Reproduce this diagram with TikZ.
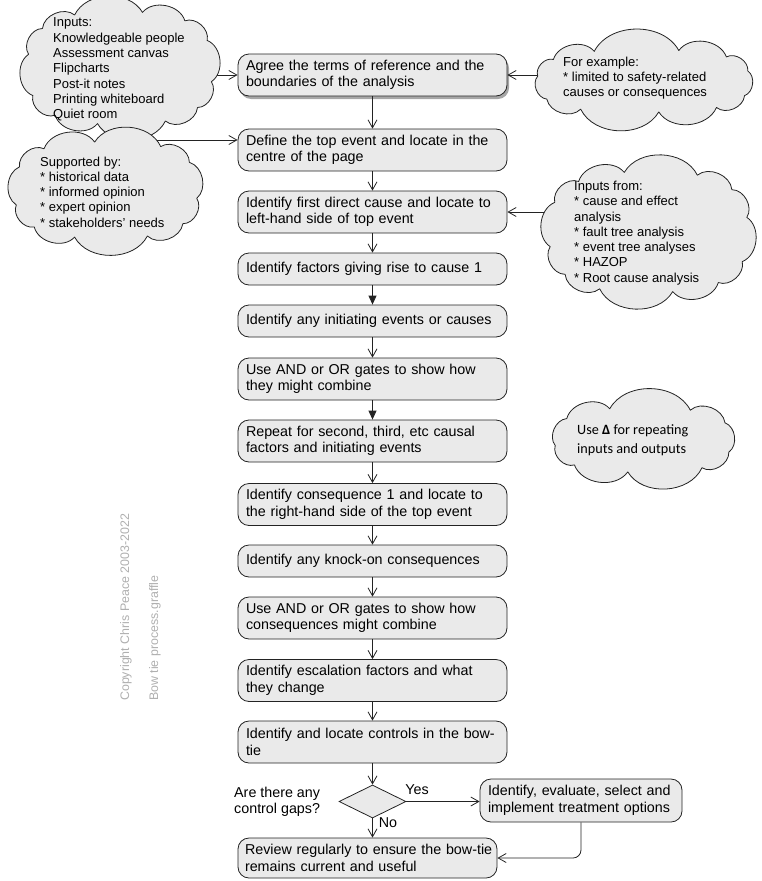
\documentclass[tikz,border=0pt]{standalone}
\usepackage{fontspec}
\setmainfont{Liberation Sans}
\newfontfamily\calibrifont{Carlito}
\usetikzlibrary{shapes.geometric,arrows.meta,shadows,backgrounds,intersections}
\definecolor{boxfill}{RGB}{234,234,234}
\definecolor{linec}{RGB}{35,35,35}
\definecolor{wmark}{RGB}{175,175,175}
% #1 name, #2 cx, #3 cy, #4 a, #5 b, #6 lobes, #7 start angle
\newcommand\drawmycloud[7]{%
  \foreach \k in {1,...,#6}{%
    \pgfmathsetmacro\cang{#7+360*\k/#6}%
    \pgfmathsetmacro\cco{cos(\cang)}%
    \pgfmathsetmacro\csi{sin(\cang)}%
    \pgfmathsetmacro\cpx{#2+#4*((\cco<0)?-1:1)*pow(abs(\cco)+0.00001,0.72)}%
    \pgfmathsetmacro\cpy{#3+#5*((\csi<0)?-1:1)*pow(abs(\csi)+0.00001,0.72)}%
    \coordinate (#1-\k) at (\cpx,\cpy);}%
  \draw[cloudline, name path global=#1p] (#1-#6) \foreach \k in {1,...,#6}{ to[bend left=62] (#1-\k)} -- cycle;
}
\begin{document}
\begin{tikzpicture}[x=1pt,y=-1pt,
  box/.style={draw=linec, fill=boxfill, rounded corners=11pt, align=left,
    inner xsep=8pt, inner ysep=0pt, line width=0.8pt,
    font=\fontsize{14.3}{16.5}\selectfont},
  onel/.style={minimum height=32pt},
  twol/.style={minimum height=42pt},
  cloudline/.style={draw=linec, fill=boxfill, line width=0.8pt, line join=round},
  cloudtxt/.style={align=left, anchor=west, inner sep=0pt,
    font=\fontsize{13}{15.3}\selectfont},
  flow/.style={draw=linec, line width=0.8pt, -{Straight Barb[length=8pt,width=9pt,line width=0.8pt]}},
  fflow/.style={draw=linec, line width=0.8pt, -{Triangle[length=9pt,width=8pt]}},
  lbl/.style={inner sep=0pt, font=\fontsize{14.3}{16.5}\selectfont},
  wm/.style={rotate=90, anchor=west, inner sep=0pt, text=wmark, font=\fontsize{12.4}{14}\selectfont}
]
\useasboundingbox (0,0) rectangle (761,881);

% main flow
\node[box, twol, text width=253pt, drop shadow={shadow xshift=2pt, shadow yshift=-3pt, fill=black, opacity=0.35}] (b1) at (372.5,75) {Agree the terms of reference and the\\boundaries of the analysis};
\node[box, twol, text width=253pt] (b2) at (372.5,150) {Define the top event and locate in the\\centre of the page};
\node[box, twol, text width=253pt] (b3) at (372.5,212) {Identify first direct cause and locate to\\left-hand side of top event};
\node[box, onel, text width=253pt] (b4) at (372.5,269) {Identify factors giving rise to cause 1};
\node[box, onel, text width=253pt] (b5) at (372.5,321) {Identify any initiating events or causes};
\node[box, twol, text width=253pt] (b6) at (372.5,379) {Use AND or OR gates to show how\\they might combine};
\node[box, twol, text width=253pt] (b7) at (372.5,441) {Repeat for second, third, etc causal\\factors and initiating events};
\node[box, twol, text width=253pt] (b8) at (372.5,504.5) {Identify consequence 1 and locate to\\the right-hand side of the top event};
\node[box, onel, text width=253pt] (b9) at (372.5,561) {Identify any knock-on consequences};
\node[box, twol, text width=253pt] (b10) at (372.5,618) {Use AND or OR gates to show how\\consequences might combine};
\node[box, twol, text width=253pt] (b11) at (372.5,680.5) {Identify escalation factors and what\\they change};
\node[box, twol, text width=253pt] (b12) at (372.5,742) {Identify and locate controls in the bow-\\tie};
\node[diamond, draw=linec, fill=boxfill, line width=0.8pt, minimum width=67pt, minimum height=33pt, inner sep=0pt] (d) at (372.5,801.5) {};
\node[box, minimum height=40pt, text width=245pt, inner xsep=7pt] (b13) at (367.5,858) {\mbox{Review regularly to ensure the bow-tie}\\remains current and useful};
\node[box, minimum height=43pt, text width=186pt] (tr) at (581,800.5) {\mbox{Identify, evaluate, select and}\\\mbox{implement treatment options}};

\node[lbl, align=left, anchor=west] (q) at (234,802) {Are there any\\control gaps?};
\node[lbl] (yes) at (417,790) {Yes};
\node[lbl] (no) at (388,823) {No};

% clouds
\drawmycloud{c1}{120}{68}{92}{56}{12}{8}
\node[cloudtxt] (t1) at (53,69.5) {Inputs:\\Knowledgeable people\\Assessment canvas\\Flipcharts\\Post-it notes\\Printing whiteboard\\Quiet room};
\drawmycloud{c2}{643.5}{81}{106}{31}{11}{-12}
\node[cloudtxt] (t2) at (563,78) {For example:\\* limited to safety-related\\causes or consequences};
\drawmycloud{c3}{106}{190}{91}{48}{11}{5}
\node[cloudtxt] (t3) at (40,192) {Supported by:\\* historical data\\* informed opinion\\* expert opinion\\* stakeholders’ needs};
\drawmycloud{c4}{648.5}{232}{99}{60}{12}{-8}
\node[cloudtxt] (t4) at (574,233) {Inputs from:\\* cause and effect\\analysis\\* fault tree analysis\\* event tree analyses\\* HAZOP\\* Root cause analysis};
\drawmycloud{c5}{643}{440}{88}{32}{9}{15}
\node[cloudtxt, font=\calibrifont\fontsize{14.2}{19}\selectfont] (t5) at (577,440) {Use {\bfseries Δ} for repeating\\inputs and outputs};

% watermark
\node[wm] (cr) at (126,701) {Copyright Chris Peace 2003-2022};
\node[wm] (bt) at (155,701) {Bow tie process.graffle};

% connectors
\draw[flow] (b1) -- (b2);
\draw[flow] (b2) -- (b3);
\draw[flow] (b3) -- (b4);
\draw[fflow] (b4) -- (b5);
\draw[flow] (b5) -- (b6);
\draw[fflow] (b6) -- (b7);
\draw[flow] (b7) -- (b8);
\draw[flow] (b8) -- (b9);
\draw[flow] (b9) -- (b10);
\draw[flow] (b10) -- (b11);
\draw[flow] (b11) -- (b12);
\draw[flow] (b12) -- (d);
\draw[flow] (d.south) -- (d.south |- b13.north);
\draw[flow] (d.east) -- (tr.west |- d.east);
\draw[flow, rounded corners=8pt] (tr.south) |- (b13.east);

\path[name path=h3] (0,140) -- (238,140);
\path[name intersections={of=c3p and h3, sort by=h3, total=\ntot}] coordinate (c3o) at (intersection-\ntot);
\begin{scope}[on background layer]
\draw[flow] (t1.center |- b1.west) -- (b1.west);
\draw[flow] (t2.center |- b1.east) -- (b1.east);
\draw[flow] (c3o) -- (b2.west |- c3o);
\draw[flow] (t4.center |- b3.east) -- (b3.east);
\end{scope}
\end{tikzpicture}
\end{document}
